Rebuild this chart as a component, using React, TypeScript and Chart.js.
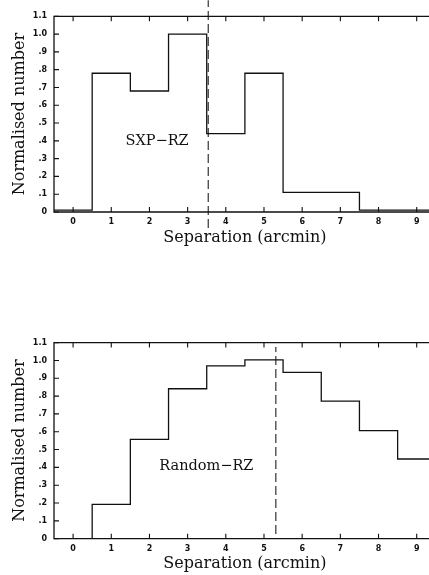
import React, { useEffect, useRef } from "react";
import { Chart, registerables } from "chart.js";

Chart.register(...registerables);

// ---- data ----
const binCenters = [0, 1, 2, 3, 4, 5, 6, 7, 8, 9];
const sxpValues = [0.01, 0.78, 0.68, 1.0, 0.44, 0.78, 0.11, 0.11, 0.01, 0.01];
const randomValues = [0, 0.193, 0.557, 0.841, 0.97, 1.003, 0.933, 0.772, 0.606, 0.447];
const sxpMarker = 3.54;
const sxpMarkerRange = [-0.09, 1.19];
const randomMarker = 5.31;
const randomMarkerRange = [0.026, 1.075];
const xTickValues = [0, 1, 2, 3, 4, 5, 6, 7, 8, 9];
const xTickLabels = ["0", "1", "2", "3", "4", "5", "6", "7", "8", "9"];
const yTickValues = [0, 0.1, 0.2, 0.3, 0.4, 0.5, 0.6, 0.7, 0.8, 0.9, 1.0, 1.1];
const yTickLabels = ["0", ".1", ".2", ".3", ".4", ".5", ".6", ".7", ".8", ".9", "1.0", "1.1"];
const sxpLabel = { text: "SXP\u2212RZ", x: 2.2, y: 0.4 };
const randomLabel = { text: "Random\u2212RZ", x: 3.49, y: 0.405 };
const xTitle = "Separation (arcmin)";
const yTitle = "Normalised number";

const CANVAS_W = 440;
const INK = "#111";

type PanelCfg = {
  values: number[];
  marker: number;
  markerRange: number[];
  label: { text: string; x: number; y: number };
  height: number;
  areaTop: number;
  areaBottom: number;
  xTitlePad: number;
};

function stepPoints(values: number[]) {
  const pts = values.map((v, i) => ({ x: binCenters[i] - 0.5, y: v }));
  const last = values.length - 1;
  pts.push({ x: binCenters[last] + 0.5, y: values[last] });
  return pts;
}

const framePlugin = {
  id: "frame",
  afterDatasetsDraw(chart: any) {
    const { ctx, chartArea: a, scales } = chart;
    ctx.save();
    ctx.strokeStyle = INK;
    ctx.lineWidth = 1.3;
    ctx.beginPath();
    ctx.rect(a.left, a.top, a.right - a.left, a.bottom - a.top);
    ctx.stroke();
    ctx.lineWidth = 1.1;
    const tl = 5;
    ctx.beginPath();
    for (const v of xTickValues) {
      const px = scales.x.getPixelForValue(v);
      ctx.moveTo(px, a.bottom);
      ctx.lineTo(px, a.bottom - tl);
      ctx.moveTo(px, a.top);
      ctx.lineTo(px, a.top + tl);
    }
    for (const v of yTickValues) {
      const py = scales.y.getPixelForValue(v);
      ctx.moveTo(a.left, py);
      ctx.lineTo(a.left + tl, py);
      ctx.moveTo(a.right, py);
      ctx.lineTo(a.right - tl, py);
    }
    ctx.stroke();
    const lab = chart.options.plugins.frame.label;
    ctx.fillStyle = INK;
    ctx.font = "14.5px 'DejaVu Serif'";
    ctx.textAlign = "center";
    ctx.textBaseline = "middle";
    ctx.fillText(lab.text, scales.x.getPixelForValue(lab.x), scales.y.getPixelForValue(lab.y));
    ctx.restore();
  },
};

function makeConfig(p: PanelCfg): any {
  return {
    type: "line",
    data: {
      datasets: [
        {
          data: stepPoints(p.values),
          stepped: "before",
          borderColor: INK,
          borderWidth: 1.3,
          pointRadius: 0,
          fill: false,
        },
        {
          data: [
            { x: p.marker, y: p.markerRange[0] },
            { x: p.marker, y: p.markerRange[1] },
          ],
          borderColor: "#333",
          borderWidth: 1.2,
          borderDash: [9, 4],
          pointRadius: 0,
          fill: false,
          clip: false,
        },
      ],
    },
    options: {
      animation: false,
      responsive: false,
      events: [],
      layout: {
        padding: { top: p.areaTop, left: 0, right: CANVAS_W - 435.8, bottom: 0 },
      },
      plugins: {
        legend: { display: false },
        tooltip: { enabled: false },
        frame: { label: p.label },
      },
      scales: {
        x: {
          type: "linear",
          min: -0.5,
          max: 9.5,
          afterBuildTicks: (s: any) => {
            s.ticks = xTickValues.map((v) => ({ value: v }));
          },
          afterFit: (s: any) => {
            s.height = p.height - p.areaBottom;
          },
          grid: { display: false, drawTicks: false },
          border: { display: false },
          ticks: {
            autoSkip: false,
            maxRotation: 0,
            padding: 5,
            color: INK,
            font: { family: "DejaVu Sans", weight: "bold", size: 8 },
            callback: (_v: any, i: number) => xTickLabels[i],
          },
          title: {
            display: true,
            text: xTitle,
            color: INK,
            font: { family: "DejaVu Serif", size: 16 },
            padding: { top: 0, bottom: p.xTitlePad },
          },
        },
        y: {
          type: "linear",
          min: 0,
          max: 1.1,
          afterBuildTicks: (s: any) => {
            s.ticks = yTickValues.map((v) => ({ value: v }));
          },
          afterFit: (s: any) => {
            s.width = 54;
          },
          grid: { display: false, drawTicks: false },
          border: { display: false },
          ticks: {
            autoSkip: false,
            padding: 7,
            color: INK,
            font: { family: "DejaVu Sans", weight: "bold", size: 8 },
            callback: (_v: any, i: number) => yTickLabels[i],
          },
          title: {
            display: true,
            text: yTitle,
            color: INK,
            font: { family: "DejaVu Serif", size: 16 },
            padding: { top: 10, bottom: 0 },
          },
        },
      },
    },
    plugins: [framePlugin],
  };
}

function Panel({ cfg, top }: { cfg: PanelCfg; top: number }) {
  const ref = useRef<HTMLCanvasElement | null>(null);
  useEffect(() => {
    if (!ref.current) return;
    const chart = new Chart(ref.current, makeConfig(cfg));
    return () => chart.destroy();
  }, []);
  return (
    <canvas
      ref={ref}
      width={CANVAS_W}
      height={cfg.height}
      style={{ position: "absolute", left: 0, top, width: CANVAS_W, height: cfg.height, display: "block" }}
    />
  );
}

const topPanel: PanelCfg = {
  values: sxpValues,
  marker: sxpMarker,
  markerRange: sxpMarkerRange,
  label: sxpLabel,
  height: 260,
  areaTop: 16.3,
  areaBottom: 212,
  xTitlePad: 13,
};

const bottomPanel: PanelCfg = {
  values: randomValues,
  marker: randomMarker,
  markerRange: randomMarkerRange,
  label: randomLabel,
  height: 255,
  areaTop: 22.6,
  areaBottom: 218.7,
  xTitlePad: 2,
};

export default function App() {
  return (
    <div
      style={{
        position: "absolute",
        left: 0,
        top: 0,
        width: 429,
        height: 575,
        overflow: "hidden",
        background: "#fff",
      }}
    >
      <Panel cfg={topPanel} top={0} />
      <Panel cfg={bottomPanel} top={320} />
    </div>
  );
}
